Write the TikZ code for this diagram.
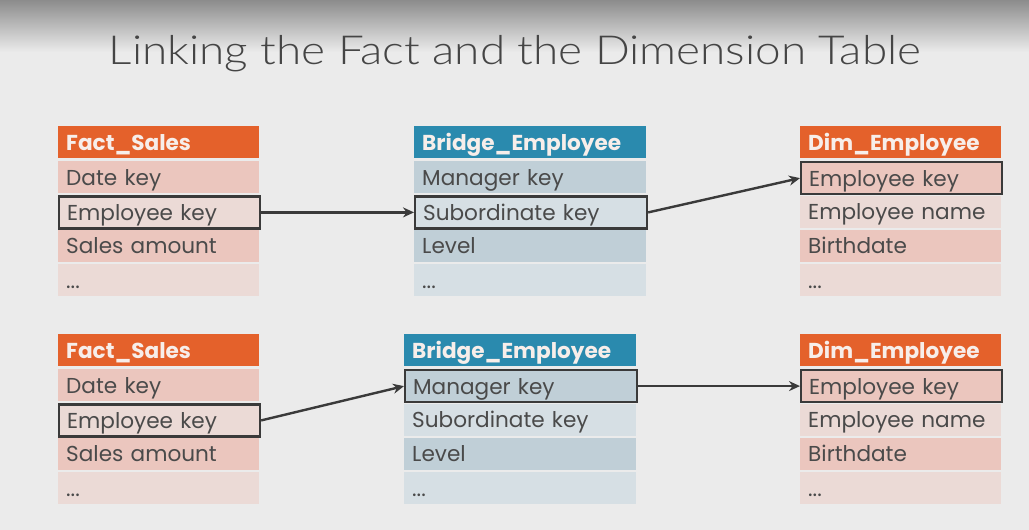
\documentclass[tikz,border=0pt]{standalone}
\usepackage{fontspec}
\setmainfont{Poppins}
\newfontfamily\titlefont{Lato Light}
\usetikzlibrary{arrows.meta}
\definecolor{bg}{HTML}{EBEBEB}
\definecolor{topgrey}{HTML}{8C8C8C}
\definecolor{orangehd}{HTML}{E4612B}
\definecolor{bluehd}{HTML}{2A8AAE}
\definecolor{odark}{HTML}{EBC6BE}
\definecolor{olight}{HTML}{EBDAD6}
\definecolor{bdark}{HTML}{C0CFD7}
\definecolor{blight}{HTML}{D6DFE4}
\definecolor{rowtext}{HTML}{4A4A4A}
\definecolor{hdtext}{HTML}{F7EEEA}
\definecolor{hlcol}{HTML}{3A3A3A}
\definecolor{titlecol}{HTML}{454545}
\tikzset{
  cell/.style={anchor=north west, inner ysep=0pt, inner xsep=8pt, minimum height=32pt,
    text height=24pt, text depth=8pt, align=left},
  rowbox/.style={cell, text=rowtext, font=\fontsize{21.6}{22}\selectfont},
  headbox/.style={cell, text=hdtext, font=\fontsize{21.6}{22}\selectfont\bfseries},
  hl/.style={draw=hlcol, line width=2.2pt},
  link/.style={draw=hlcol, line width=2.4pt, -{Stealth[length=11pt,width=10pt]}},
  narrow/.style={text width=185pt},
  wide/.style={text width=216pt}
}
\begin{document}
\begin{tikzpicture}[x=1pt,y=-1pt]
\useasboundingbox (0,0) rectangle (1029,530);
\fill[bg] (0,0) rectangle (1029,530);
\shade[top color=topgrey, bottom color=bg] (0,0) rectangle (1029,52);
\node[font=\titlefont\fontsize{40}{40}\selectfont, text=titlecol, anchor=base, inner sep=0pt] (title) at (515,64) {\scalebox{1.147}[1]{Linking the Fact and the Dimension Table}};

% ---------- top row ----------
\node[headbox, narrow, fill=orangehd] (f1h) at (58,126) {Fact\_Sales};
\node[rowbox, narrow, fill=odark] (f1r1) at (58,161) {Date key};
\node[rowbox, narrow, fill=olight, hl] (f1r2) at (58,195.3) {Employee key};
\node[rowbox, narrow, fill=odark] (f1r3) at (58,229.6) {Sales amount};
\node[rowbox, narrow, fill=olight] (f1r4) at (58,263.9) {...};

\node[headbox, wide, fill=bluehd] (b1h) at (414,126) {Bridge\_Employee};
\node[rowbox, wide, fill=bdark] (b1r1) at (414,161) {Manager key};
\node[rowbox, wide, fill=blight, hl] (b1r2) at (414,195.3) {Subordinate key};
\node[rowbox, wide, fill=bdark] (b1r3) at (414,229.6) {Level};
\node[rowbox, wide, fill=blight] (b1r4) at (414,263.9) {...};

\node[headbox, narrow, fill=orangehd] (d1h) at (800,126) {Dim\_Employee};
\node[rowbox, narrow, fill=odark, hl] (d1r1) at (800,161) {Employee key};
\node[rowbox, narrow, fill=olight] (d1r2) at (800,195.3) {Employee name};
\node[rowbox, narrow, fill=odark] (d1r3) at (800,229.6) {Birthdate};
\node[rowbox, narrow, fill=olight] (d1r4) at (800,263.9) {...};

% ---------- bottom row ----------
\node[headbox, narrow, fill=orangehd] (f2h) at (58,334) {Fact\_Sales};
\node[rowbox, narrow, fill=odark] (f2r1) at (58,369) {Date key};
\node[rowbox, narrow, fill=olight, hl] (f2r2) at (58,403.3) {Employee key};
\node[rowbox, narrow, fill=odark] (f2r3) at (58,437.6) {Sales amount};
\node[rowbox, narrow, fill=olight] (f2r4) at (58,471.9) {...};

\node[headbox, wide, fill=bluehd] (b2h) at (404,334) {Bridge\_Employee};
\node[rowbox, wide, fill=bdark, hl] (b2r1) at (404,369) {Manager key};
\node[rowbox, wide, fill=blight] (b2r2) at (404,403.3) {Subordinate key};
\node[rowbox, wide, fill=bdark] (b2r3) at (404,437.6) {Level};
\node[rowbox, wide, fill=blight] (b2r4) at (404,471.9) {...};

\node[headbox, narrow, fill=orangehd] (d2h) at (800,334) {Dim\_Employee};
\node[rowbox, narrow, fill=odark, hl] (d2r1) at (800,369) {Employee key};
\node[rowbox, narrow, fill=olight] (d2r2) at (800,403.3) {Employee name};
\node[rowbox, narrow, fill=odark] (d2r3) at (800,437.6) {Birthdate};
\node[rowbox, narrow, fill=olight] (d2r4) at (800,471.9) {...};

% ---------- links ----------
\draw[link] (f1r2.east) -- (b1r2.west);
\draw[link] (b1r2.east) -- (d1r1.west);
\draw[link] (f2r2.east) -- (b2r1.west);
\draw[link] (b2r1.east) -- (d2r1.west);
\end{tikzpicture}
\end{document}
